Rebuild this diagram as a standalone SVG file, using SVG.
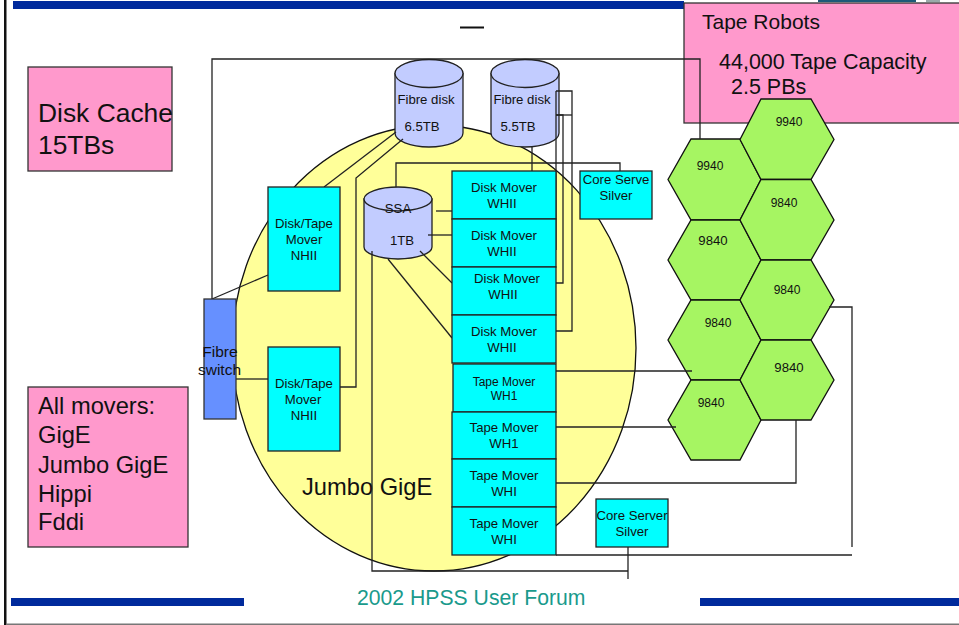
<svg xmlns="http://www.w3.org/2000/svg" width="959" height="625" viewBox="0 0 959 625">
<style>
text{font-family:"Liberation Sans",Arial,sans-serif;fill:#111}
.m{text-anchor:middle}
.s{font-size:13.2px}
.h{font-size:12px}
.l{font-size:23.7px}
.r{font-size:21.5px}
.pink{fill:#ff99cc;stroke:#333;stroke-width:1.3}
.cy{fill:#00ffff;stroke:#222;stroke-width:1.3}
.disk{fill:#c2ccff;stroke:#222;stroke-width:1.3}
.hex{fill:#a6f562;stroke:#111;stroke-width:1.3}
.bar{fill:#002a9c}
#connectors path{fill:none;stroke:#222;stroke-width:1.3}
</style>
<rect width="959" height="625" fill="#fff"/>
<g id="frame">
<rect x="4" y="0" width="2.500" height="625" fill="#111"/>
<rect x="6" y="623.500" width="953" height="1.500" fill="#777"/>
<rect class="bar" x="13" y="1" width="671" height="8"/>
<rect class="bar" x="11" y="598" width="233" height="8"/>
<rect class="bar" x="700" y="598" width="259" height="8"/>
<rect x="460" y="26.500" width="24" height="2" fill="#111"/>
<rect x="818" y="0" width="98" height="2" fill="#1d5a78"/>
<rect x="926" y="0" width="14" height="2" fill="#9aa"/>
</g>
<g id="jumbo-gige">
<ellipse cx="434" cy="348" rx="202" ry="223" fill="#ffff99" stroke="#111" stroke-width="1.3"/>
<text class="l" x="302" y="495">Jumbo GigE</text>
</g>
<g id="tape-robots">
<rect class="pink" x="684" y="3" width="280" height="120"/>
<text font-size="21" x="702" y="29">Tape Robots</text>
<text class="r" x="719" y="69">44,000 Tape Capacity</text>
<text class="r" x="731" y="94">2.5 PBs</text>
</g>
<g id="disk-cache">
<rect class="pink" x="28" y="67" width="144" height="104"/>
<text font-size="26.4" x="38" y="122">Disk Cache</text>
<text font-size="26.4" x="38" y="154">15TBs</text>
</g>
<g id="all-movers">
<rect class="pink" x="28" y="387" width="160" height="160"/>
<text class="l" x="38" y="414">All movers:</text>
<text class="l" x="38" y="443">GigE</text>
<text class="l" x="38" y="473">Jumbo GigE</text>
<text class="l" x="38" y="502">Hippi</text>
<text class="l" x="38" y="530">Fddi</text>
</g>
<g id="hex-left-1"><path class="hex" d="M691 139H740L761 179.5 740 220H691L668 179.5Z"/><text class="h m" x="710" y="170">9940</text></g>
<g id="hex-left-2"><path class="hex" d="M691 220H740L761 260 740 300H691L668 260Z"/><text class="s m" x="713" y="245">9840</text></g>
<g id="hex-left-3"><path class="hex" d="M691 300H740L761 340 740 380H691L668 340Z"/><text class="h m" x="718" y="327">9840</text></g>
<g id="hex-left-4"><path class="hex" d="M691 380H740L761 420 740 460H691L668 420Z"/><text class="h m" x="711" y="407">9840</text></g>
<g id="hex-right-1"><path class="hex" d="M761 99H811L834 139.5 811 179.5H761L740 139.5Z"/><text class="h m" x="789" y="126">9940</text></g>
<g id="hex-right-2"><path class="hex" d="M761 179.5H811L834 220 811 260H761L740 220Z"/><text class="h m" x="784" y="207">9840</text></g>
<g id="hex-right-3"><path class="hex" d="M761 260H811L834 300 811 340H761L740 300Z"/><text class="h m" x="787" y="294">9840</text></g>
<g id="hex-right-4"><path class="hex" d="M761 340H811L834 380 811 420H761L740 380Z"/><text class="s m" x="789" y="372">9840</text></g>
<g id="fibre-disk-65">
<path class="disk" d="M395 73.5V133A34 14 0 0 0 463 133V73.5Z"/><ellipse class="disk" cx="429" cy="73.5" rx="34" ry="14"/>
<text class="s m" x="426" y="104">Fibre disk</text><text class="s m" x="422" y="131">6.5TB</text>
</g>
<g id="fibre-disk-55">
<path class="disk" d="M491 73.5V133A34 14 0 0 0 559 133V73.5Z"/><ellipse class="disk" cx="525" cy="73.5" rx="34" ry="14"/>
<text class="s m" x="522" y="104">Fibre disk</text><text class="s m" x="518" y="131">5.5TB</text>
</g>
<g id="ssa">
<path class="disk" d="M364 199V247A34 12 0 0 0 432 247V199Z"/><ellipse class="disk" cx="398" cy="199" rx="34" ry="12"/>
<text class="s m" x="398" y="213">SSA</text><text class="s m" x="402" y="245">1TB</text>
</g>
<g id="connectors">
<path d="M212 299V59H700V139"/>
<path d="M212 299L268 275"/>
<path d="M396 132L324 187"/>
<path d="M403 139L356 178V387H340"/>
<path d="M236 379H268"/>
<path d="M556 91H572V331H556"/>
<path d="M556 115H563V283H556"/>
<path d="M556 91V250"/>
<path d="M556 115H572"/>
<path d="M532 147V171"/>
<path d="M396 187V163H620V171"/>
<path d="M436 211H452"/>
<path d="M428 235H452"/>
<path d="M420 251L452 283"/>
<path d="M388 259L452 338"/>
<path d="M372 251V571H628"/>
<path d="M628 547V579"/>
<path d="M556 371H692"/>
<path d="M556 427H676"/>
<path d="M556 483H796V420"/>
<path d="M556 555H852"/>
<path d="M829 307H852V547"/>
</g>
<g id="fibre-switch">
<rect x="204" y="299" width="32" height="120" fill="#6690ff" stroke="#333" stroke-width="1.3"/>
<text font-size="15.5" class="m" x="220" y="357">Fibre</text><text font-size="15.5" class="m" x="219.500" y="375">switch</text>
</g>
<g id="disk-tape-mover-1"><rect class="cy" x="268" y="187" width="72" height="104"/><text class="s m" x="304" y="228">Disk/Tape</text><text class="s m" x="304" y="244">Mover</text><text class="s m" x="304" y="260">NHII</text></g>
<g id="disk-tape-mover-2"><rect class="cy" x="268" y="347" width="72" height="104"/><text class="s m" x="304" y="388">Disk/Tape</text><text class="s m" x="303" y="404">Mover</text><text class="s m" x="304" y="420">NHII</text></g>
<g id="disk-mover-1"><rect class="cy" x="452" y="171" width="104" height="48"/><text class="s m" x="504" y="192">Disk Mover</text><text class="s m" x="502" y="208">WHII</text></g>
<g id="disk-mover-2"><rect class="cy" x="452" y="219" width="104" height="48"/><text class="s m" x="504" y="240">Disk Mover</text><text class="s m" x="502" y="256">WHII</text></g>
<g id="disk-mover-3"><rect class="cy" x="452" y="267" width="104" height="48"/><text class="s m" x="507" y="283">Disk Mover</text><text class="s m" x="503" y="299">WHII</text></g>
<g id="disk-mover-4"><rect class="cy" x="452" y="315" width="104" height="48"/><text class="s m" x="504" y="336">Disk Mover</text><text class="s m" x="502" y="352">WHII</text></g>
<g id="tape-mover-1"><rect class="cy" x="453" y="364" width="103" height="48"/><text class="h m" x="504" y="386">Tape Mover</text><text class="h m" x="504" y="400">WH1</text></g>
<g id="tape-mover-2"><rect class="cy" x="452" y="412" width="104" height="47"/><text class="s m" x="504" y="432">Tape Mover</text><text class="s m" x="504" y="448">WH1</text></g>
<g id="tape-mover-3"><rect class="cy" x="452" y="459" width="104" height="48"/><text class="s m" x="504" y="480">Tape Mover</text><text class="s m" x="504" y="496">WHI</text></g>
<g id="tape-mover-4"><rect class="cy" x="452" y="507" width="104" height="48"/><text class="s m" x="504" y="528">Tape Mover</text><text class="s m" x="504" y="544">WHI</text></g>
<g id="core-server-silver-1"><rect class="cy" x="580" y="171" width="72" height="48"/><text class="s m" x="616" y="184">Core Serve</text><text class="s m" x="616" y="200">Silver</text></g>
<g id="core-server-silver-2"><rect class="cy" x="596" y="499" width="72" height="48"/><text class="s m" x="632" y="520">Core Server</text><text class="s m" x="632" y="536">Silver</text></g>
<g id="footer"><text font-size="21.2" x="357" y="605" style="fill:#1a9a8c">2002 HPSS User Forum</text></g>
</svg>
